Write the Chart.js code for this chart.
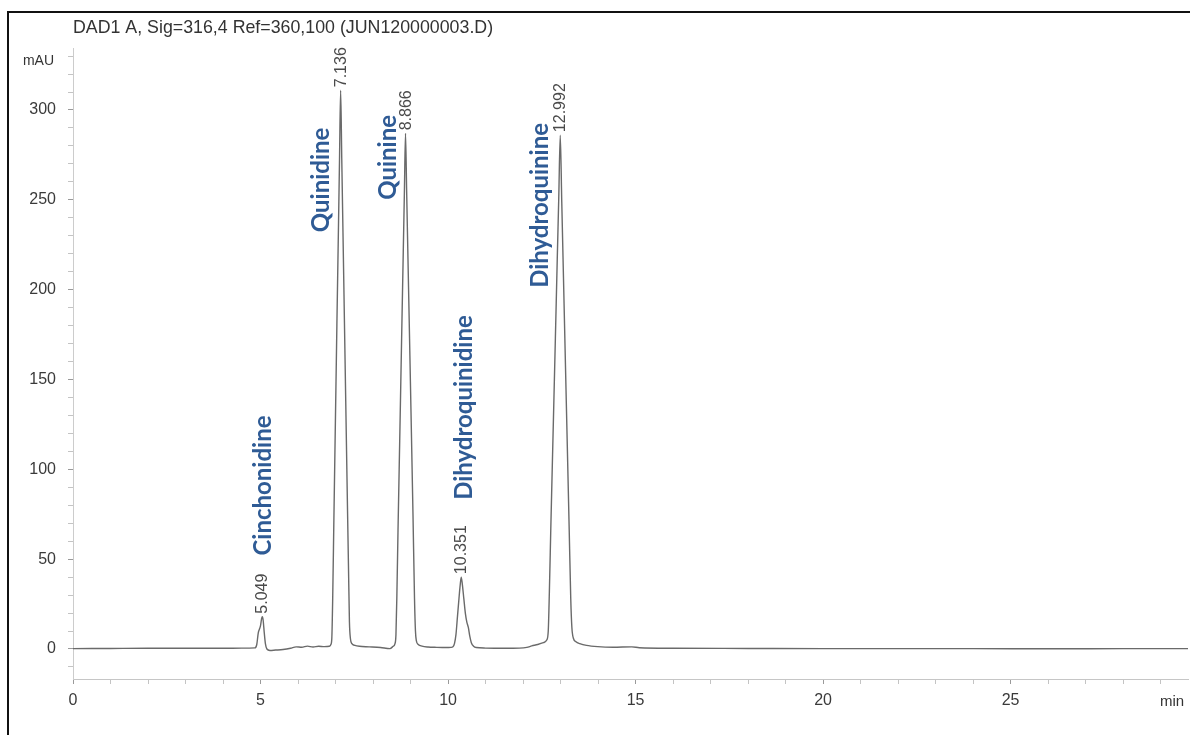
<!DOCTYPE html>
<html>
<head>
<meta charset="utf-8">
<title>DAD1 A chromatogram</title>
<script src="https://cdn.jsdelivr.net/npm/chart.js@4.4.1/dist/chart.umd.min.js"></script>
<style>
  html, body { margin: 0; padding: 0; background: #fff; overflow: hidden; }
  canvas { position: absolute; left: 0; top: 0; }
  #frame { position: absolute; left: 7px; top: 11px; width: 1200px; height: 740px;
           border-left: 2px solid #111; border-top: 2px solid #111; pointer-events: none; }
</style>
</head>
<body>
<canvas id="chrom" width="1190" height="735"></canvas>
<div id="frame"></div>
<script>
const signalName = "DAD1 A, Sig=316,4 Ref=360,100 (JUN120000003.D)";

// integrated peaks: retention time (min) and the alkaloid assigned to it
const peakTimes = [5.049, 7.136, 8.866, 10.351, 12.992];
const compounds = ["Cinchonidine", "Quinidine", "Quinine", "Dihydroquinidine", "Dihydroquinine"];

// labelled axis ticks
const xLabels = [0, 5, 10, 15, 20, 25];
const yLabels = [0, 50, 100, 150, 200, 250, 300];

// detector trace, min vs mAU
const timeMin = [
  0, 1, 2, 3, 4, 4.5, 4.85, 4.9, 4.94, 4.97, 5.0, 5.03, 5.049, 5.07, 5.1, 5.13, 5.17, 5.25,
  5.4, 5.6, 5.8, 5.95, 6.1, 6.25, 6.4, 6.55, 6.7,
  6.836, 6.876, 6.901, 6.926, 6.956, 6.996, 7.036, 7.076, 7.106, 7.136, 7.166, 7.196, 7.236,
  7.276, 7.316, 7.346, 7.371, 7.396, 7.436, 7.516, 7.636, 7.9, 8.2, 8.45,
  8.536, 8.586, 8.611, 8.636, 8.666, 8.716, 8.766, 8.806, 8.836, 8.866, 8.896, 8.926, 8.966,
  9.016, 9.066, 9.106, 9.131, 9.156, 9.206, 9.306, 9.466, 9.7, 9.95, 10.08,
  10.131, 10.171, 10.211, 10.251, 10.291, 10.321, 10.351, 10.381, 10.421, 10.461, 10.501,
  10.541, 10.581, 10.621, 10.681, 10.751, 11.0, 11.5, 11.9, 12.1,
  12.232, 12.392, 12.542, 12.632, 12.672, 12.702, 12.742, 12.802, 12.862, 12.912, 12.952,
  12.992, 13.032, 13.072, 13.122, 13.182, 13.232, 13.272, 13.302, 13.342, 13.412, 13.512,
  13.692, 13.992, 14.4, 14.9, 15.1, 16, 18, 20, 22, 24, 26, 28, 29.73
];
const signalMau = [
  0.2, 0.3, 0.4, 0.4, 0.4, 0.5, 0.6, 2.5, 9, 11, 13, 17, 18, 16, 9, 3, 0, -0.8,
  -0.6, -0.3, 0.4, 1.2, 1.0, 1.6, 1.1, 1.5, 1.3,
  1.5, 2.5, 6, 30, 72, 126, 180, 232, 272, 311, 273, 235, 184,
  133, 82, 45, 15, 6, 3, 2, 1.5, 1.2, 0.8, 0.2,
  1.5, 3, 8, 30, 66, 121, 177, 221, 254, 287, 255, 223, 181,
  128, 74, 28, 10, 4.5, 2.5, 1.6, 1.1, 0.9, 0.8, 0.9,
  1.2, 3, 8, 18, 28, 35, 40, 36, 28, 20, 15,
  12, 7, 3.5, 1.5, 0.8, 0.5, 0.4, 0.5, 0.9,
  1.7, 2.5, 3.5, 5, 10, 32, 69, 121, 173, 217, 251,
  286, 249, 212, 166, 111, 65, 28, 12, 6, 4, 3,
  2, 1.3, 1.0, 1.2, 0.7, 0.4, 0.3, 0.2, 0.2, 0.2, 0.1, 0.2, 0.2
];

// where each compound name starts (min, mAU), text runs upward from there
const nameSpots = [[5.28, 52], [6.83, 232], [8.61, 250], [10.64, 83], [12.67, 201]];

// minor ticks every minute / every 10 mAU
const xTicks = [];
for (let m = 0; m <= 29; m++) xTicks.push(m);
const yTicks = [];
for (let v = -10; v <= 330; v += 10) yTicks.push(v);

const sans = "'Liberation Sans', Arial, sans-serif";

const peakNotes = {
  id: "peakNotes",
  afterDatasetsDraw(chart) {
    const { ctx, scales: { x, y } } = chart;
    ctx.save();
    ctx.textAlign = "left";
    ctx.textBaseline = "alphabetic";

    // retention time written just above each apex
    ctx.fillStyle = "#4a4a4a";
    ctx.font = "16px " + sans;
    peakTimes.forEach(rt => {
      const apex = signalMau[timeMin.indexOf(rt)];
      ctx.save();
      ctx.translate(x.getPixelForValue(rt) + 5, y.getPixelForValue(apex) - 3);
      ctx.rotate(-Math.PI / 2);
      ctx.fillText(rt.toFixed(3), 0, 0);
      ctx.restore();
    });

    // compound names
    ctx.fillStyle = "#2f5b95";
    ctx.font = "bold 24px Lato, 'Open Sans', sans-serif";
    compounds.forEach((name, i) => {
      const [t, v] = nameSpots[i];
      ctx.save();
      ctx.translate(x.getPixelForValue(t), y.getPixelForValue(v));
      ctx.rotate(-Math.PI / 2);
      ctx.fillText(name, 0, 0);
      ctx.restore();
    });
    ctx.restore();
  },
  afterDraw(chart) {
    const { ctx, chartArea } = chart;
    ctx.save();
    ctx.fillStyle = "#333";
    ctx.textBaseline = "alphabetic";
    ctx.font = "17.8px " + sans;
    ctx.textAlign = "left";
    ctx.fillText(signalName, chartArea.left, 33);

    ctx.font = "14px " + sans;
    ctx.textAlign = "right";
    ctx.fillText("mAU", 54, 65);

    ctx.font = "15px " + sans;
    ctx.textAlign = "center";
    ctx.fillText("min", 1172, 706);
    ctx.restore();
  }
};

const tickShade = ctx => (ctx.tick && (xLabels.includes(ctx.tick.value) && ctx.scale.axis === "x" ||
  yLabels.includes(ctx.tick.value) && ctx.scale.axis === "y")) ? "#9a9a9a" : "#c4c4c4";

new Chart(document.getElementById("chrom"), {
  type: "line",
  data: {
    datasets: [{
      data: timeMin.map((t, i) => ({ x: t, y: signalMau[i] })),
      borderColor: "#6a6a6a",
      borderWidth: 1.4,
      pointRadius: 0,
      cubicInterpolationMode: "monotone",
      fill: false
    }]
  },
  options: {
    responsive: false,
    animation: false,
    devicePixelRatio: 1,
    layout: { padding: { left: 0, top: 48, right: 2, bottom: 0 } },
    plugins: { legend: { display: false }, tooltip: { enabled: false } },
    scales: {
      x: {
        type: "linear",
        min: 0,
        max: 29.73,
        afterBuildTicks: s => { s.ticks = xTicks.map(v => ({ value: v })); },
        afterFit: s => { s.height = 56; },
        border: { color: "#c6c6c6", width: 1 },
        grid: { drawOnChartArea: false, drawTicks: true, tickLength: 5, tickColor: tickShade },
        ticks: {
          autoSkip: false, maxRotation: 0, padding: 7, color: "#3a3a3a",
          font: { family: sans, size: 16 },
          callback: v => xLabels.includes(v) ? String(v) : ""
        }
      },
      y: {
        type: "linear",
        min: -16.7,
        max: 334.5,
        afterBuildTicks: s => { s.ticks = yTicks.map(v => ({ value: v })); },
        afterFit: s => { s.width = 73; },
        border: { color: "#cccccc", width: 1 },
        grid: { drawOnChartArea: false, drawTicks: true, tickLength: 5, tickColor: tickShade },
        ticks: {
          autoSkip: false, padding: 12, color: "#3a3a3a",
          font: { family: sans, size: 16 },
          callback: v => yLabels.includes(v) ? String(v) : ""
        }
      }
    }
  },
  plugins: [peakNotes]
});
</script>
</body>
</html>
